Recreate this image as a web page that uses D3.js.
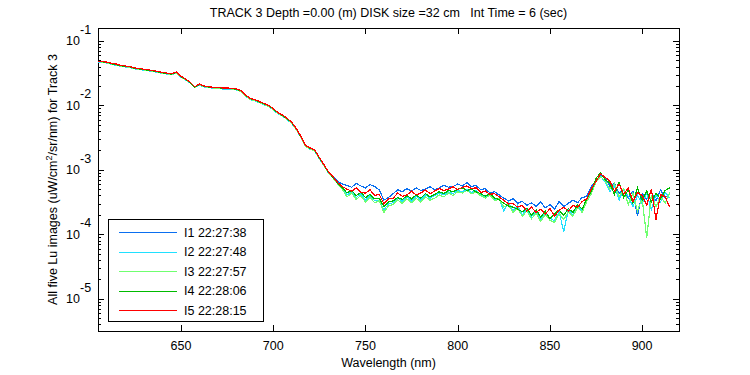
<!DOCTYPE html>
<html lang="en">
<head>
<meta charset="utf-8">
<title>TRACK 3 Lu spectra</title>
<script src="https://d3js.org/d3.v7.min.js"></script>
<style>
  body { margin: 0; background: #fff; }
  text { font-family: "Liberation Sans", Arial, sans-serif; fill: #000; }
</style>
</head>
<body>
<div id="chart"></div>
<script>
// wavelength grid (nm), 605 .. 915 every 2.5 nm
var wavelengths = d3.range(605, 915.01, 2.5);

// spectra, stored as log10(Lu) in uW/cm^2/sr/nm
var i1Log = [
  -1.325,-1.335,-1.345,-1.365,-1.375,-1.395,-1.405,-1.415,-1.435,-1.445,
  -1.455,-1.465,-1.475,-1.49,-1.505,-1.515,-1.525,-1.50,-1.565,-1.605,
  -1.655,-1.72,-1.685,-1.715,-1.725,-1.735,-1.735,-1.745,-1.745,-1.75,
  -1.76,-1.785,-1.855,-1.905,-1.925,-1.955,-1.985,-2.015,-2.065,-2.125,
  -2.165,-2.215,-2.275,-2.375,-2.495,-2.635,-2.675,-2.705,-2.825,-2.935,
  -3.04,-3.11,-3.18,
  -3.22,-3.24,-3.27,-3.21,-3.25,-3.28,-3.23,-3.26,-3.31,-3.47,
  -3.43,-3.37,-3.31,-3.34,-3.29,-3.33,-3.28,-3.32,-3.30,-3.26,
  -3.31,-3.28,-3.24,-3.27,-3.26,-3.22,-3.25,-3.20,-3.26,-3.24,
  -3.31,-3.29,-3.36,-3.34,-3.39,-3.44,-3.48,-3.45,-3.52,-3.49,
  -3.55,-3.51,-3.57,-3.50,-3.59,-3.54,-3.61,-3.49,-3.57,-3.52,
  -3.47,-3.51,-3.43,-3.41,-3.26,-3.16,-3.09,-3.13,-3.25,-3.21,
  -3.37,-3.29,-3.44,-3.33,-3.72,-3.37,-3.46,-3.34,-3.48,-3.31,
  -3.43,-3.37
];
var i2Log = [
  -1.325,-1.335,-1.345,-1.365,-1.38,-1.395,-1.405,-1.415,-1.435,-1.445,
  -1.455,-1.465,-1.475,-1.49,-1.505,-1.515,-1.525,-1.50,-1.565,-1.605,
  -1.655,-1.725,-1.69,-1.715,-1.725,-1.735,-1.735,-1.745,-1.745,-1.75,
  -1.76,-1.79,-1.86,-1.91,-1.93,-1.96,-1.99,-2.02,-2.07,-2.13,
  -2.17,-2.22,-2.28,-2.38,-2.50,-2.64,-2.68,-2.71,-2.83,-2.94,
  -3.05,-3.13,-3.22,
  -3.28,-3.39,-3.34,-3.43,-3.37,-3.47,-3.40,-3.48,-3.47,-3.62,
  -3.53,-3.51,-3.44,-3.49,-3.42,-3.48,-3.41,-3.47,-3.39,-3.44,
  -3.40,-3.36,-3.39,-3.34,-3.37,-3.32,-3.34,-3.30,-3.35,-3.32,
  -3.38,-3.42,-3.37,-3.46,-3.44,-3.64,-3.50,-3.64,-3.55,-3.70,
  -3.61,-3.73,-3.64,-3.77,-3.66,-3.75,-3.79,-3.65,-3.96,-3.62,
  -3.70,-3.56,-3.64,-3.47,-3.35,-3.17,-3.10,-3.19,-3.34,-3.24,
  -3.47,-3.30,-3.41,-3.57,-3.40,-3.52,-3.37,-3.62,-3.39,-3.50,
  -3.35,-3.44
];
var i3Log = [
  -1.32,-1.33,-1.34,-1.36,-1.375,-1.39,-1.40,-1.41,-1.43,-1.44,
  -1.45,-1.46,-1.47,-1.485,-1.50,-1.51,-1.52,-1.495,-1.56,-1.60,
  -1.65,-1.72,-1.68,-1.71,-1.72,-1.73,-1.73,-1.74,-1.74,-1.745,
  -1.755,-1.785,-1.855,-1.905,-1.925,-1.955,-1.985,-2.015,-2.065,-2.125,
  -2.165,-2.215,-2.275,-2.375,-2.495,-2.635,-2.675,-2.705,-2.825,-2.935,
  -3.045,-3.13,-3.22,
  -3.30,-3.42,-3.36,-3.46,-3.40,-3.50,-3.43,-3.51,-3.48,-3.66,
  -3.56,-3.54,-3.47,-3.52,-3.45,-3.51,-3.44,-3.50,-3.42,-3.47,
  -3.44,-3.39,-3.42,-3.36,-3.40,-3.34,-3.36,-3.32,-3.37,-3.35,
  -3.40,-3.44,-3.39,-3.48,-3.45,-3.58,-3.54,-3.66,-3.59,-3.72,
  -3.64,-3.76,-3.67,-3.80,-3.69,-3.78,-3.82,-3.68,-3.77,-3.65,
  -3.72,-3.58,-3.66,-3.49,-3.37,-3.19,-3.11,-3.17,-3.30,-3.21,
  -3.42,-3.29,-3.54,-3.36,-3.64,-3.44,-4.06,-3.39,-3.57,-3.41,
  -3.52,-3.35
];
var i4Log = [
  -1.315,-1.325,-1.335,-1.355,-1.37,-1.385,-1.395,-1.405,-1.425,-1.435,
  -1.445,-1.455,-1.465,-1.48,-1.495,-1.505,-1.515,-1.49,-1.555,-1.595,
  -1.645,-1.715,-1.675,-1.705,-1.715,-1.725,-1.725,-1.735,-1.735,-1.74,
  -1.75,-1.775,-1.845,-1.895,-1.915,-1.945,-1.975,-2.005,-2.055,-2.115,
  -2.155,-2.205,-2.265,-2.365,-2.485,-2.625,-2.665,-2.695,-2.815,-2.925,
  -3.035,-3.12,-3.21,
  -3.28,-3.36,-3.32,-3.40,-3.35,-3.43,-3.38,-3.45,-3.44,-3.57,
  -3.50,-3.48,-3.43,-3.46,-3.40,-3.45,-3.39,-3.44,-3.37,-3.42,
  -3.38,-3.34,-3.37,-3.32,-3.34,-3.30,-3.28,-3.32,-3.30,-3.34,
  -3.37,-3.41,-3.37,-3.44,-3.46,-3.52,-3.56,-3.58,-3.61,-3.65,
  -3.60,-3.70,-3.62,-3.73,-3.64,-3.76,-3.68,-3.62,-3.71,-3.60,
  -3.66,-3.54,-3.61,-3.45,-3.33,-3.13,-3.05,-3.15,-3.21,-3.38,
  -3.19,-3.43,-3.31,-3.52,-3.28,-3.47,-3.33,-3.50,-3.36,-3.45,
  -3.32,-3.28
];
var i5Log = [
  -1.31,-1.32,-1.33,-1.35,-1.36,-1.38,-1.39,-1.40,-1.42,-1.43,
  -1.44,-1.45,-1.46,-1.475,-1.49,-1.50,-1.51,-1.48,-1.55,-1.59,
  -1.64,-1.71,-1.67,-1.70,-1.71,-1.72,-1.72,-1.73,-1.73,-1.735,
  -1.745,-1.77,-1.84,-1.89,-1.91,-1.94,-1.97,-2.00,-2.05,-2.11,
  -2.15,-2.20,-2.26,-2.36,-2.48,-2.62,-2.66,-2.69,-2.81,-2.92,
  -3.03,-3.11,-3.20,
  -3.26,-3.30,-3.33,-3.28,-3.35,-3.36,-3.31,-3.40,-3.38,-3.53,
  -3.45,-3.44,-3.36,-3.41,-3.39,-3.33,-3.39,-3.36,-3.31,-3.37,
  -3.33,-3.29,-3.32,-3.30,-3.26,-3.31,-3.27,-3.25,-3.29,-3.28,
  -3.35,-3.33,-3.38,-3.37,-3.42,-3.47,-3.53,-3.52,-3.58,-3.55,
  -3.64,-3.58,-3.66,-3.61,-3.69,-3.60,-3.72,-3.63,-3.58,-3.64,
  -3.55,-3.58,-3.49,-3.45,-3.29,-3.18,-3.06,-3.12,-3.17,-3.33,
  -3.22,-3.38,-3.28,-3.49,-3.35,-3.40,-3.55,-3.30,-3.77,-3.38,
  -3.42,-3.58
];

var seriesNames = ["I1 22:27:38", "I2 22:27:48", "I3 22:27:57", "I4 22:28:06", "I5 22:28:15"];
var seriesColors = ["#0a6ff0", "#20e0ff", "#70ff70", "#00bb00", "#ff0000"];
var xTicks = [650, 700, 750, 800, 850, 900];
var yExponents = [-1, -2, -3, -4, -5];

var width = 750, height = 375;
var plot = { left: 98, right: 679, top: 28, bottom: 331 };

var svg = d3.select("#chart").append("svg")
    .attr("width", width)
    .attr("height", height);

var x = d3.scaleLinear().domain([605, 920]).range([plot.left, plot.right]);
var y = d3.scaleLog().domain([Math.pow(10, -5.5), Math.pow(10, -0.8)]).range([plot.bottom, plot.top]);

// plot area
svg.append("rect")
    .attr("x", plot.left + 0.5).attr("y", plot.top + 0.5)
    .attr("width", plot.right - plot.left).attr("height", plot.bottom - plot.top)
    .attr("fill", "#fff").attr("stroke", "#000").attr("shape-rendering", "crispEdges");

// spectra
var allSeries = [i1Log, i2Log, i3Log, i4Log, i5Log];
var line = d3.line()
    .x(function(d, i) { return x(wavelengths[i]); })
    .y(function(d) { return y(Math.pow(10, d)); });

svg.append("g").selectAll("path")
    .data(allSeries)
    .enter().append("path")
    .attr("d", line)
    .attr("fill", "none")
    .attr("stroke", function(d, i) { return seriesColors[i]; })
    .attr("stroke-width", 1.2)
    .attr("shape-rendering", "crispEdges");

// x ticks (inside, top and bottom)
var ticks = svg.append("g").attr("stroke", "#000").attr("shape-rendering", "crispEdges");
xTicks.forEach(function(t) {
    var px = Math.round(x(t)) + 0.5;
    ticks.append("line").attr("x1", px).attr("x2", px).attr("y1", plot.bottom).attr("y2", plot.bottom - 6);
    ticks.append("line").attr("x1", px).attr("x2", px).attr("y1", plot.top).attr("y2", plot.top + 6);
});

// y ticks, major and minor, on both sides
var yMinor = [];
for (var e = -6; e <= -1; e++) {
    for (var m = 2; m <= 9; m++) {
        var v = m * Math.pow(10, e);
        if (v > y.domain()[0] && v < y.domain()[1]) yMinor.push(v);
    }
}
yExponents.forEach(function(e) {
    var py = Math.round(y(Math.pow(10, e))) + 0.5;
    ticks.append("line").attr("x1", plot.left).attr("x2", plot.left + 6).attr("y1", py).attr("y2", py);
    ticks.append("line").attr("x1", plot.right).attr("x2", plot.right - 6).attr("y1", py).attr("y2", py);
});
yMinor.forEach(function(v) {
    var py = Math.round(y(v)) + 0.5;
    ticks.append("line").attr("x1", plot.left).attr("x2", plot.left + 3).attr("y1", py).attr("y2", py);
    ticks.append("line").attr("x1", plot.right).attr("x2", plot.right - 3).attr("y1", py).attr("y2", py);
});

// tick labels
svg.append("g").selectAll("text")
    .data(xTicks)
    .enter().append("text")
    .attr("x", function(d) { return x(d); })
    .attr("y", 350)
    .attr("text-anchor", "middle")
    .style("font-size", "12.5px")
    .text(function(d) { return d; });

svg.append("g").selectAll("text")
    .data(yExponents)
    .enter().append("text")
    .attr("x", 80)
    .attr("y", function(d) { return y(Math.pow(10, d)) + 4.5; })
    .attr("text-anchor", "end")
    .style("font-size", "12.5px")
    .text("10");
svg.append("g").selectAll("text")
    .data(yExponents)
    .enter().append("text")
    .attr("x", 80)
    .attr("y", function(d) { return y(Math.pow(10, d)) - 7; })
    .style("font-size", "12.5px")
    .text(function(d) { return "-" + (-d); });

// title and axis labels
svg.append("text")
    .attr("x", (plot.left + plot.right) / 2)
    .attr("y", 17)
    .attr("text-anchor", "middle")
    .style("font-size", "12.5px")
    .attr("xml:space", "preserve")
    .text("TRACK 3 Depth =0.00 (m) DISK size =32 cm   Int Time = 6 (sec)");

svg.append("text")
    .attr("x", (plot.left + plot.right) / 2)
    .attr("y", 367)
    .attr("text-anchor", "middle")
    .style("font-size", "12.5px")
    .text("Wavelength (nm)");

var yTitle = svg.append("text")
    .attr("transform", "translate(57," + ((plot.top + plot.bottom) / 2) + ") rotate(-90)")
    .attr("text-anchor", "middle")
    .style("font-size", "12.5px");
yTitle.append("tspan").text("All five Lu images (uW/cm");
yTitle.append("tspan").attr("dy", -5).style("font-size", "9px").text("2");
yTitle.append("tspan").attr("dy", 5).text("/sr/nm) for Track 3");

// legend
var legend = svg.append("g");
legend.append("rect")
    .attr("x", 108.5).attr("y", 219.5)
    .attr("width", 155).attr("height", 102)
    .attr("fill", "#fff").attr("stroke", "#000").attr("shape-rendering", "crispEdges");
seriesNames.forEach(function(name, i) {
    var ly = 232 + i * 19.5;
    legend.append("line")
        .attr("x1", 119).attr("x2", 177)
        .attr("y1", Math.round(ly) + 0.5).attr("y2", Math.round(ly) + 0.5)
        .attr("stroke", seriesColors[i]).attr("shape-rendering", "crispEdges");
    legend.append("text")
        .attr("x", 184).attr("y", ly + 4.5)
        .style("font-size", "12.5px")
        .text(name);
});
</script>
</body>
</html>
